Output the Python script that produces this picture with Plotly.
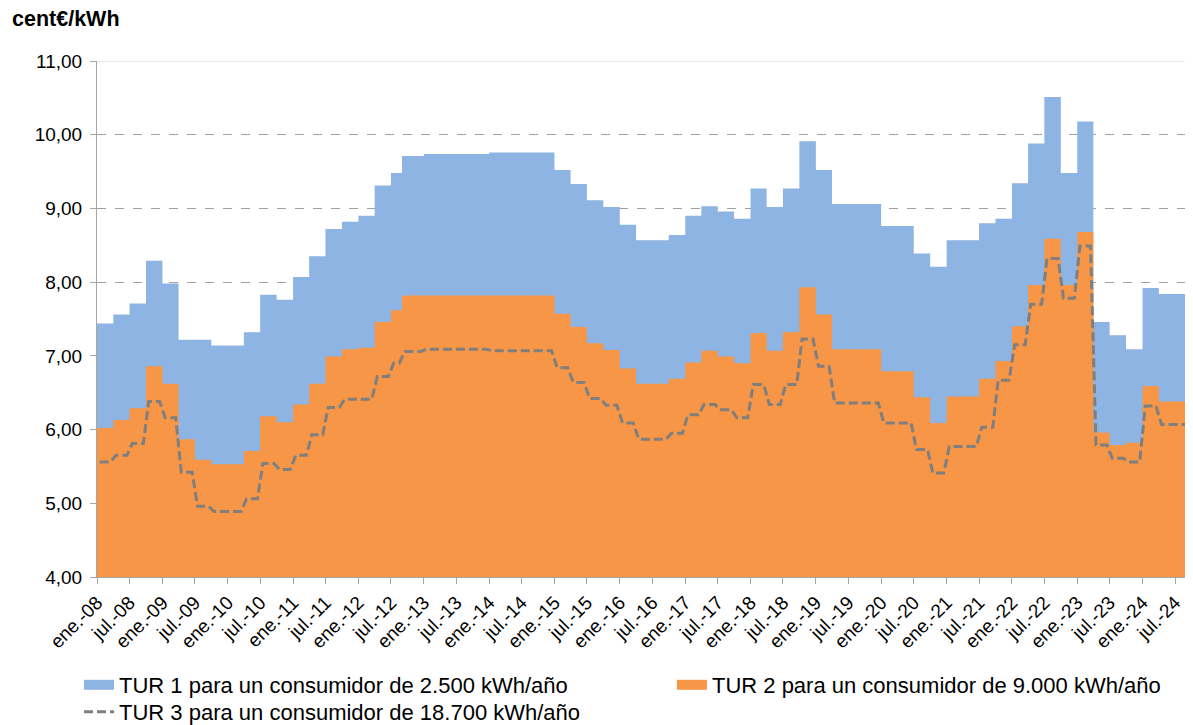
import pandas as pd
import plotly.graph_objects as go

# ---------------- data (change dates and values, cent€/kWh) ----------------
periods = [
    "2008-01-01", "2008-04-01", "2008-07-01", "2008-10-01",
    "2009-01-01", "2009-04-01", "2009-07-01", "2009-10-01",
    "2010-04-01", "2010-07-01", "2010-10-01",
    "2011-01-01", "2011-04-01", "2011-07-01", "2011-10-01",
    "2012-01-01", "2012-04-01", "2012-07-01", "2012-09-01",
    "2013-01-01", "2014-01-01",
    "2015-01-01", "2015-04-01", "2015-07-01", "2015-10-01",
    "2016-01-01", "2016-04-01", "2016-10-01",
    "2017-01-01", "2017-04-01", "2017-07-01", "2017-10-01",
    "2018-01-01", "2018-04-01", "2018-07-01", "2018-10-01",
    "2019-01-01", "2019-04-01",
    "2020-01-01", "2020-07-01", "2020-10-01",
    "2021-01-01", "2021-07-01", "2021-10-01",
    "2022-01-01", "2022-04-01", "2022-07-01", "2022-10-01",
    "2023-01-01", "2023-04-01", "2023-07-01", "2023-10-01",
    "2024-01-01", "2024-04-01", "2024-10-01",
]
tur1 = [
    7.44, 7.56, 7.71, 8.29,
    7.98, 7.22, 7.22, 7.14,
    7.32, 7.83, 7.76,
    8.07, 8.35, 8.72, 8.82,
    8.90, 9.31, 9.48, 9.71,
    9.74, 9.76,
    9.52, 9.33, 9.11, 9.02,
    8.78, 8.57, 8.64,
    8.90, 9.03, 8.96, 8.86,
    9.27, 9.02, 9.27, 9.91,
    9.52, 9.06,
    8.76, 8.39, 8.21,
    8.57, 8.80, 8.86,
    9.34, 9.88, 10.51, 9.48,
    10.18, 7.46, 7.28, 7.09,
    7.92, 7.84, 8.38,
]
tur2 = [
    6.02, 6.13, 6.29, 6.86,
    6.62, 5.87, 5.59, 5.53,
    5.71, 6.18, 6.10,
    6.34, 6.62, 6.99, 7.09,
    7.11, 7.46, 7.62, 7.82,
    7.82, 7.82,
    7.57, 7.39, 7.17, 7.08,
    6.83, 6.62, 6.69,
    6.91, 7.07, 6.99, 6.90,
    7.31, 7.07, 7.32, 7.93,
    7.56, 7.09,
    6.79, 6.44, 6.09,
    6.45, 6.69, 6.93,
    7.40, 7.96, 8.59, 7.96,
    8.68, 5.96, 5.79, 5.82,
    6.59, 6.38, 6.83,
]
tur3 = [
    5.56, 5.65, 5.81, 6.38,
    6.16, 5.42, 4.96, 4.89,
    5.06, 5.54, 5.46,
    5.65, 5.93, 6.30, 6.41,
    6.41, 6.72, 6.90, 7.06,
    7.09, 7.07,
    6.84, 6.64, 6.42, 6.33,
    6.09, 5.87, 5.95,
    6.20, 6.34, 6.27, 6.16,
    6.61, 6.34, 6.61, 7.23,
    6.86, 6.36,
    6.09, 5.73, 5.41,
    5.77, 6.03, 6.67,
    7.15, 7.70, 8.32, 7.78,
    8.49, 5.79, 5.61, 5.56,
    6.32, 6.07, 6.50,
]
series_names = [
    "TUR 1 para un consumidor de 2.500 kWh/año",
    "TUR 2 para un consumidor de 9.000 kWh/año",
    "TUR 3 para un consumidor de 18.700 kWh/año",
]
tick_dates = [
    "2008-01-01", "2008-07-01", "2009-01-01", "2009-07-01", "2010-01-01", "2010-07-01",
    "2011-01-01", "2011-07-01", "2012-01-01", "2012-07-01", "2013-01-01", "2013-07-01",
    "2014-01-01", "2014-07-01", "2015-01-01", "2015-07-01", "2016-01-01", "2016-07-01",
    "2017-01-01", "2017-07-01", "2018-01-01", "2018-07-01", "2019-01-01", "2019-07-01",
    "2020-01-01", "2020-07-01", "2021-01-01", "2021-07-01", "2022-01-01", "2022-07-01",
    "2023-01-01", "2023-07-01", "2024-01-01", "2024-07-01",
]
tick_labels = [
    "ene.-08", "jul.-08", "ene.-09", "jul.-09", "ene.-10", "jul.-10",
    "ene.-11", "jul.-11", "ene.-12", "jul.-12", "ene.-13", "jul.-13",
    "ene.-14", "jul.-14", "ene.-15", "jul.-15", "ene.-16", "jul.-16",
    "ene.-17", "jul.-17", "ene.-18", "jul.-18", "ene.-19", "jul.-19",
    "ene.-20", "jul.-20", "ene.-21", "jul.-21", "ene.-22", "jul.-22",
    "ene.-23", "jul.-23", "ene.-24", "jul.-24",
]
y_ticks = [4, 5, 6, 7, 8, 9, 10, 11]
last_month = "2024-12-01"
series_end = "2025-01-01"

# ---------------- styling ----------------
BLUE = "#8DB4E2"
ORANGE = "#F79646"
GREY_LINE = "#7F7F7F"
AXIS = "#A6A6A6"
FONT = "Liberation Sans, Arial, sans-serif"

# ---------------- derived series ----------------
starts = pd.to_datetime(periods)
edge_x = list(starts) + [pd.Timestamp(series_end)]


def step_values(vals):
    return list(vals) + [vals[-1]]


months = pd.date_range(periods[0], last_month, freq="MS")
tur3_monthly = pd.Series(tur3, index=starts).reindex(months, method="ffill")
mid_x = months + pd.Timedelta(days=15)

fig = go.Figure()

fig.add_trace(go.Scatter(
    x=edge_x, y=step_values(tur1), mode="lines",
    line=dict(shape="hv", width=0, color=BLUE),
    fill="tozeroy", fillcolor=BLUE, showlegend=False, hoverinfo="skip"))
fig.add_trace(go.Scatter(
    x=edge_x, y=step_values(tur2), mode="lines",
    line=dict(shape="hv", width=0, color=ORANGE),
    fill="tozeroy", fillcolor=ORANGE, showlegend=False, hoverinfo="skip"))
fig.add_trace(go.Scatter(
    x=mid_x, y=tur3_monthly.values, mode="lines", name=series_names[2],
    line=dict(color=GREY_LINE, width=3, dash="9px,4px"), legend="legend3"))

# legend swatches for the two areas
fig.add_trace(go.Scatter(x=[None], y=[None], mode="lines", name=series_names[0],
                         line=dict(color=BLUE, width=12), legend="legend"))
fig.add_trace(go.Scatter(x=[None], y=[None], mode="lines", name=series_names[1],
                         line=dict(color=ORANGE, width=12), legend="legend2"))

legend_common = dict(
    orientation="v", xanchor="left", yanchor="middle", itemwidth=30,
    font=dict(family=FONT, size=22, color="#000000"),
    bgcolor="rgba(0,0,0,0)", borderwidth=0,
)

fig.update_layout(
    width=1193, height=725,
    margin=dict(l=89, r=8, t=53, b=156, autoexpand=False),
    paper_bgcolor="white", plot_bgcolor="white",
    separators=",.",
    font=dict(family=FONT, color="#000000", size=19),
    showlegend=True,
    legend=dict(x=-0.0164, y=-0.2093, **legend_common),
    legend2=dict(x=0.5246, y=-0.2093, **legend_common),
    legend3=dict(x=-0.0164, y=-0.2616, **legend_common),
    xaxis=dict(
        type="date", range=["2008-01-01", "2024-10-09"],
        tickvals=tick_dates, ticktext=tick_labels, tickangle=-45,
        showgrid=False, showline=True, linecolor=AXIS, linewidth=1,
        ticks="outside", ticklen=6, tickcolor=AXIS,
        tickfont=dict(family=FONT, size=19, color="#000000"),
        zeroline=False, automargin=False,
    ),
    yaxis=dict(
        range=[4, 11], tickvals=y_ticks, tickformat=".2f",
        showgrid=True, gridcolor="#A0A0A0", griddash="dash", gridwidth=1,
        showline=True, linecolor=AXIS, linewidth=1,
        ticks="outside", ticklen=6, tickcolor=AXIS, ticklabelstandoff=4,
        tickfont=dict(family=FONT, size=19, color="#000000"),
        zeroline=False, automargin=False,
    ),
    annotations=[dict(
        text="<b>cent€/kWh</b>", xref="paper", yref="paper",
        x=-0.0794, y=1.0814, xanchor="left", yanchor="middle", showarrow=False,
        font=dict(family=FONT, size=21.5, color="#000000"),
    )],
    shapes=[dict(type="line", xref="paper", yref="y", x0=0, x1=1, y0=11, y1=11,
                 line=dict(color="#D9D9D9", width=1), layer="above")],
)

fig.write_html("out.html")
